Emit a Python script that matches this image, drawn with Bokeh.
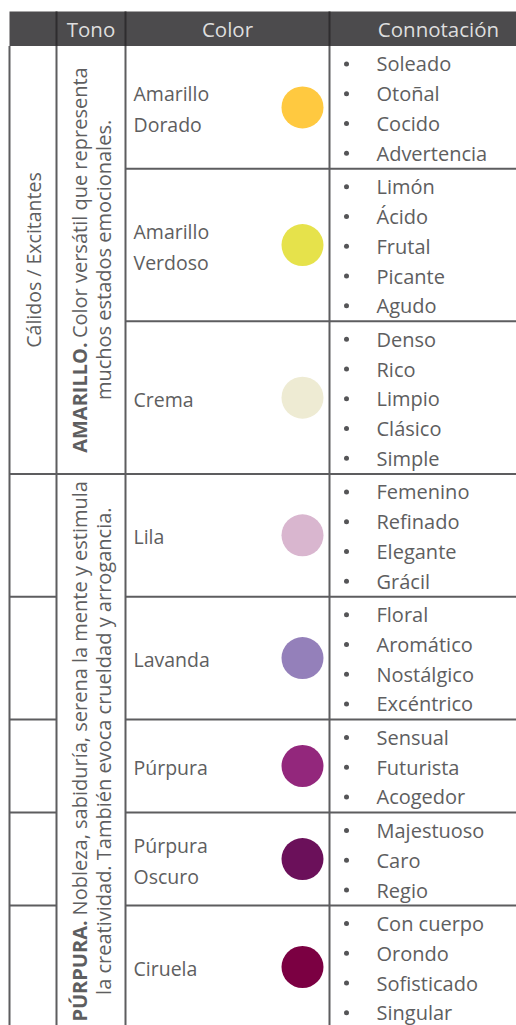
import numpy as np
from bokeh.plotting import figure
from bokeh.models import Range1d
from bokeh.core.properties import value
from bokeh.embed import file_html
from bokeh.resources import INLINE

# ---------------- data ----------------
encabezados = ["Tono", "Color", "Connotación"]
grupo = "Cálidos / Excitantes"
tonos = ["AMARILLO.", "PÚRPURA."]
tono_linea1 = ["Color versátil que representa",
               "Nobleza, sabiduría, serena la mente y estimula"]
tono_linea2 = ["muchos estados emocionales.",
               "la creatividad. También evoca crueldad y arrogancia."]
colores_por_tono = [3, 5]
nombres = [["Amarillo", "Dorado"], ["Amarillo", "Verdoso"], ["Crema"], ["Lila"],
           ["Lavanda"], ["Púrpura"], ["Púrpura", "Oscuro"], ["Ciruela"]]
muestras = ["#FFC940", "#E6E24B", "#EEEBD3", "#D9B6CF",
            "#9480BA", "#93277C", "#6B105A", "#7B0042"]
connotaciones = [
    ["Soleado", "Otoñal", "Cocido", "Advertencia"],
    ["Limón", "Ácido", "Frutal", "Picante", "Agudo"],
    ["Denso", "Rico", "Limpio", "Clásico", "Simple"],
    ["Femenino", "Refinado", "Elegante", "Grácil"],
    ["Floral", "Aromático", "Nostálgico", "Excéntrico"],
    ["Sensual", "Futurista", "Acogedor"],
    ["Majestuoso", "Caro", "Regio"],
    ["Con cuerpo", "Orondo", "Sofisticado", "Singular"],
]

# ---------------- layout / style ----------------
FONT = value("Open Sans")
TXT = "#5e5e60"
LINE = "#5d5d5f"
HEAD_BG = "#4c4b4d"
HEAD_TXT = "#dedede"
X0, C1, C2, C3, XR = 9, 56, 125, 329, 547
HEAD_TOP, HEAD_BOT = 11, 45.5
PITCH, PAD = 29.75, 3.8
FS_ITEM, FS_NAME, FS_VERT, FS_HEAD = 20, 19.5, 20, 20.5

REG = {' ': .26, 'a': .556, 'b': .613, 'c': .479, 'd': .613, 'e': .561, 'f': .336,
       'g': .546, 'h': .613, 'i': .258, 'j': .258, 'k': .52, 'l': .258, 'm': .93,
       'n': .613, 'ñ': .613, 'o': .602, 'p': .613, 'q': .613, 'r': .408, 's': .477,
       't': .353, 'u': .613, 'v': .501, 'w': .775, 'x': .514, 'y': .501, 'z': .465,
       'á': .556, 'é': .561, 'í': .258, 'ó': .602, 'ú': .613, '.': .266, ',': .25,
       'C': .631, 'N': .753, 'T': .556}
BOLD = {'A': .689, 'M': .938, 'R': .665, 'I': .345, 'L': .543, 'O': .779,
        'P': .63, 'U': .744, 'Ú': .744, '.': .285}


def width(s, table, fs):
    return sum(table.get(ch, .58) for ch in s) * fs


heights = [PITCH * len(c) + PAD for c in connotaciones]
edges = HEAD_BOT + np.concatenate([[0], np.cumsum(heights)])
tops, bots = edges[:-1], edges[1:]
centers = (tops + bots) / 2

p = figure(width=516, height=1025, x_range=Range1d(0, 516), y_range=Range1d(1025, 0),
           output_backend="svg", toolbar_location=None, min_border=0,
           background_fill_color="white", border_fill_color="white")
p.outline_line_color = None
p.xaxis.visible = False
p.yaxis.visible = False
p.xgrid.visible = False
p.ygrid.visible = False

# header
p.quad(left=[X0], right=[XR], top=[HEAD_TOP], bottom=[HEAD_BOT],
       fill_color=HEAD_BG, line_color=None)
p.segment(x0=[C1, C2, C3], y0=[HEAD_TOP] * 3, x1=[C1, C2, C3], y1=[HEAD_BOT] * 3,
          line_color="#2e2d2f", line_width=2)
p.text(x=[(C1 + C2) / 2, (C2 + C3) / 2, (C3 + XR) / 2], y=[(HEAD_TOP + HEAD_BOT) / 2] * 3,
       text=encabezados, text_font=FONT, text_font_size=f"{FS_HEAD}px", text_color=HEAD_TXT,
       text_align="center", text_baseline="middle")

# grid lines
bottom = bots[-1]
p.segment(x0=[X0, C1, C2, C3], y0=[HEAD_BOT] * 4, x1=[X0, C1, C2, C3], y1=[bottom] * 4,
          line_color=LINE, line_width=2)
p.segment(x0=[C2] * len(bots), y0=list(bots), x1=[XR] * len(bots), y1=list(bots),
          line_color=LINE, line_width=2)
gidx = np.cumsum(colores_por_tono)          # row index ending each tone group
g_edges = [edges[0]] + [edges[i] for i in gidx]
p.segment(x0=[X0] * len(g_edges[1:]), y0=g_edges[1:], x1=[C2] * len(g_edges[1:]),
          y1=g_edges[1:], line_color=LINE, line_width=2)
# first column split per row in the second group
sub = [bots[i] for i in range(gidx[0], len(bots))]
p.segment(x0=[X0] * len(sub), y0=sub, x1=[C1] * len(sub), y1=sub,
          line_color=LINE, line_width=2)

# group label (first column)
p.text(x=[(X0 + C1) / 2 + 0.5], y=[(g_edges[0] + g_edges[1]) / 2], text=[grupo],
       angle=np.pi / 2, text_font=FONT, text_font_size="19.5px", text_color=TXT,
       text_align="center", text_baseline="middle")

# tone descriptions (vertical, two lines)
L1X, L2X = 79, 103
for k in range(len(tonos)):
    gc = (g_edges[k] + g_edges[k + 1]) / 2
    bw = width(tonos[k], BOLD, FS_VERT) + REG[' '] * FS_VERT
    rw = width(tono_linea1[k], REG, FS_VERT)
    y_start = gc + (bw + rw) / 2
    p.text(x=[L1X], y=[y_start], text=[tonos[k]], angle=np.pi / 2, text_font=FONT,
           text_font_style="bold", text_font_size=f"{FS_VERT}px", text_color=TXT,
           text_align="left", text_baseline="middle")
    p.text(x=[L1X], y=[y_start - bw], text=[tono_linea1[k]], angle=np.pi / 2,
           text_font=FONT, text_font_size=f"{FS_VERT}px", text_color=TXT,
           text_align="left", text_baseline="middle")
    p.text(x=[L2X], y=[gc], text=[tono_linea2[k]], angle=np.pi / 2, text_font=FONT,
           text_font_size=f"{FS_VERT}px", text_color=TXT,
           text_align="center", text_baseline="middle")

# colour names
nx, ny, nt = [], [], []
for i, parts in enumerate(nombres):
    for j, s in enumerate(parts):
        nx.append(C2 + 8)
        ny.append(centers[i] + 1.5 + (j - (len(parts) - 1) / 2) * 31)
        nt.append(s)
p.text(x=nx, y=ny, text=nt, text_font=FONT, text_font_size=f"{FS_NAME}px",
       text_color=TXT, text_align="left", text_baseline="middle")

# swatches
p.scatter(x=[C3 - 27] * len(muestras), y=list(centers), size=42,
          fill_color=muestras, line_color=None)

# connotations
bx, by, bt = [], [], []
for i, items in enumerate(connotaciones):
    for j, s in enumerate(items):
        bx.append(C3 + 47)
        by.append(tops[i] + PAD / 2 + (j + 0.5) * PITCH + 1.2)
        bt.append(s)
p.scatter(x=[C3 + 17] * len(by), y=by, size=5, fill_color="#555557", line_color=None)
p.text(x=bx, y=by, text=bt, text_font=FONT, text_font_size=f"{FS_ITEM}px",
       text_color=TXT, text_align="left", text_baseline="middle")

open("out.html", "w").write(file_html(p, INLINE))
